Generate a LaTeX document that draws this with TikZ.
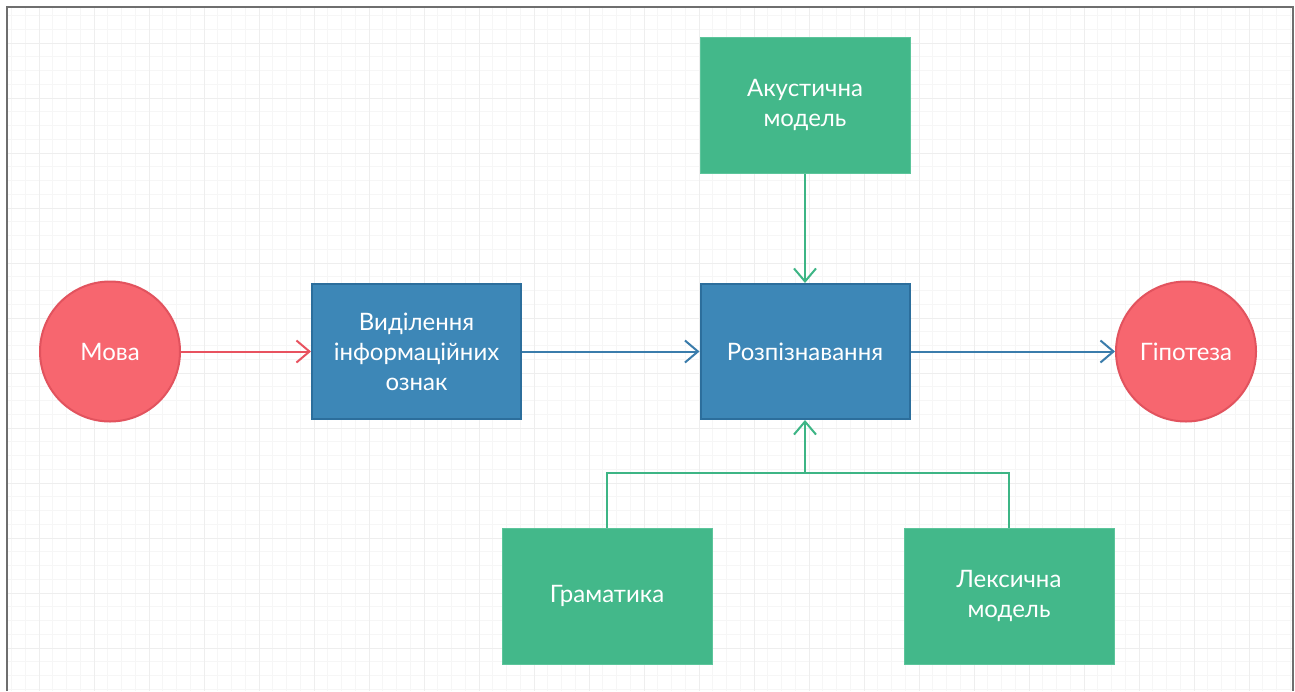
\documentclass[tikz,border=0pt]{standalone}
\usepackage{fontspec}
\setmainfont{Lato}
\usetikzlibrary{arrows.meta}
\definecolor{movared}{HTML}{F7666F}
\definecolor{movaedge}{HTML}{E2535E}
\definecolor{boxblue}{HTML}{3D87B7}
\definecolor{blueedge}{HTML}{2C6E9C}
\definecolor{boxgreen}{HTML}{43B88A}
\definecolor{greenedge}{HTML}{5CC59B}
\definecolor{redline}{HTML}{E8525F}
\definecolor{blueline}{HTML}{3A7CAB}
\definecolor{greenline}{HTML}{3DB585}
\definecolor{gridminor}{HTML}{F6F6F6}
\definecolor{gridmajor}{HTML}{EEEEEE}
\definecolor{framegray}{HTML}{6E6E6E}
\newcommand{\linew}{1pt}

\tikzset{
  redcirc/.style={circle, fill=movared, draw=movaedge, line width=\linew,
    minimum size=70pt, inner sep=0pt, text=white, font=\fontsize{12}{15}\selectfont},
  bluebox/.style={rectangle, fill=boxblue, draw=blueedge, line width=\linew,
    minimum width=104.5pt, minimum height=67.5pt, text=white, align=center,
    font=\fontsize{12}{15}\selectfont},
  greenbox/.style={rectangle, fill=boxgreen, draw=greenedge, line width=0.5pt,
    minimum width=105pt, minimum height=68pt, text=white, align=center,
    font=\fontsize{12}{15}\selectfont},
  tip/.style={-{Straight Barb[length=6.5pt,width=11pt,line width=\linew]}},
  redlink/.style={draw=redline, line width=\linew, tip},
  bluelink/.style={draw=blueline, line width=\linew, tip},
  greenlink/.style={draw=greenline, line width=\linew, tip},
  greenjoin/.style={draw=greenline, line width=\linew}
}

\begin{document}
\begin{tikzpicture}[x=0.5pt, y=-0.5pt]
\useasboundingbox (0,0) rectangle (1295,691);
\fill[white] (0,0) rectangle (1295,691);
% grid
\foreach \gx in {11.5,25.25,...,1295} \draw[gridminor, line width=0.4pt] (\gx,8) -- (\gx,691);
\foreach \gy in {15.5,29.25,...,691} \draw[gridminor, line width=0.4pt] (8,\gy) -- (1293,\gy);
\foreach \gx in {39,94,...,1295} \draw[gridmajor, line width=0.4pt] (\gx,8) -- (\gx,691);
\foreach \gy in {43,98,...,691} \draw[gridmajor, line width=0.4pt] (8,\gy) -- (1293,\gy);
% frame
\draw[framegray, line width=1pt] (7,691) -- (7,7) -- (1293,7) -- (1293,691);

\node[redcirc] (mova) at (110,351.5) {Мова};
\node[bluebox] (vydil) at (416.5,351.5) {Виділення\\інформаційних\\ознак};
\node[bluebox] (rozp) at (805,351.5) {Розпізнавання};
\node[redcirc] (hipot) at (1186,351.5) {Гіпотеза};
\node[greenbox] (akust) at (805,105) {Акустична\\модель};
\node[greenbox] (hram) at (607,596) {Граматика};
\node[greenbox] (leks) at (1009,596) {Лексична\\модель};
\coordinate (junc) at (805,473);

\draw[redlink] (mova) -- (vydil);
\draw[bluelink] (vydil) -- (rozp);
\draw[bluelink] (rozp) -- (hipot);
\draw[greenlink] (akust) -- (rozp);
\draw[greenjoin] (hram.north) |- (junc) -| (leks.north);
\draw[greenlink] (junc) -- (rozp.south);
\end{tikzpicture}
\end{document}
